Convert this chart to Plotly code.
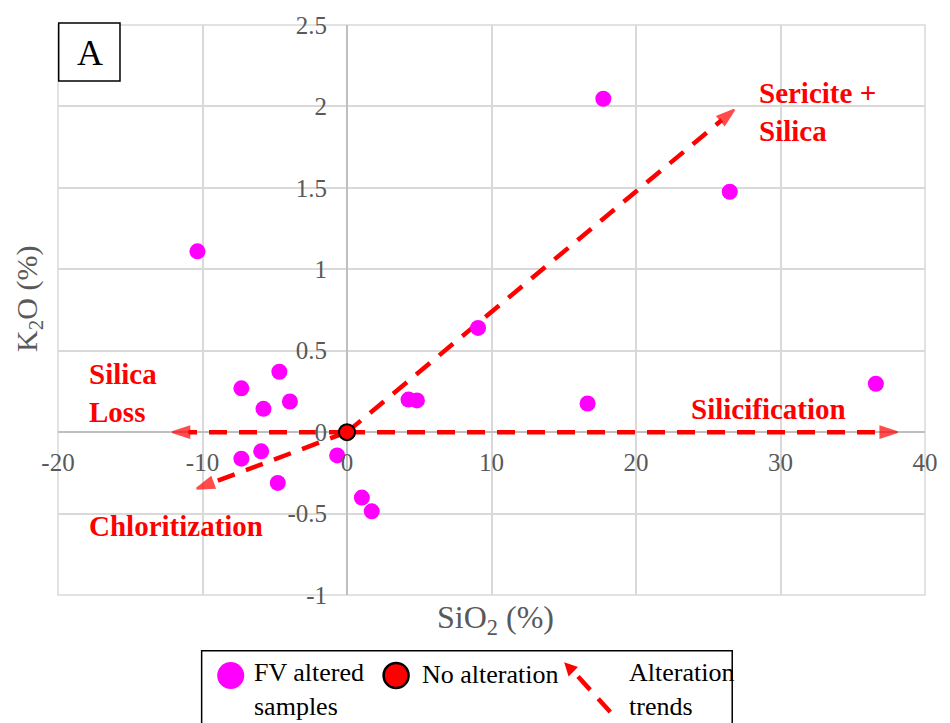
import plotly.graph_objects as go

# ---------------- data ----------------
fv_sio2 = [17.74, 26.49, -10.35, 9.07, 36.6, 16.65, 4.26, 4.84,
           -7.31, -4.68, -5.78, -3.95, -7.31, -5.94, -4.79, -0.68, 1.03, 1.71]
fv_k2o = [2.047, 1.476, 1.11, 0.64, 0.297, 0.176, 0.20, 0.195,
          0.269, 0.371, 0.143, 0.188, -0.163, -0.118, -0.312, -0.143, -0.402, -0.486]

noalt_sio2 = [0]
noalt_k2o = [0]

trend_names = ["Sericite + Silica", "Silicification", "Silica Loss", "Chloritization"]
trend_start_x = [0, 0, 0, 0]
trend_start_y = [0, 0, 0, 0]
trend_end_x = [26.8, 38.1, -12.1, -10.4]
trend_end_y = [1.98, 0.0, 0.0, -0.347]

x_tickvals = [-20, -10, 0, 10, 20, 30, 40]
x_ticktext = ["-20", "-10", "0", "10", "20", "30", "40"]
y_tickvals = [-1, -0.5, 0, 0.5, 1, 1.5, 2, 2.5]
y_ticktext = ["-1", "-0.5", "0", "0.5", "1", "1.5", "2", "2.5"]

# ---------------- layout helpers ----------------
W, H = 950, 723
L, T, R, B = 58, 22, 935, 595
PW, PH = R - L, B - T


def px(x):
    return (x - L) / PW


def py(y):
    return (B - y) / PH


SERIF = "Liberation Serif"
GRAY = "#595959"
RED = "#FF0000"
MAGENTA = "#FF00FF"

fig = go.Figure()

# alteration trend arrows
for i, name in enumerate(trend_names):
    fig.add_trace(go.Scatter(
        x=[trend_start_x[i], trend_end_x[i]],
        y=[trend_start_y[i], trend_end_y[i]],
        mode="lines+markers",
        line=dict(color=RED, width=4.5, dash="18px,12px"),
        marker=dict(symbol="arrow", size=[0, 18], color=RED,
                    angleref="previous", line=dict(width=2, color=RED)),
        name=name, hoverinfo="skip", showlegend=False,
    ))

fig.add_trace(go.Scatter(
    x=fv_sio2, y=fv_k2o, mode="markers",
    marker=dict(size=16, color=MAGENTA, line=dict(width=0)),
    name="FV altered samples", showlegend=False,
))

fig.add_trace(go.Scatter(
    x=noalt_sio2, y=noalt_k2o, mode="markers",
    marker=dict(size=16, color=RED, line=dict(width=2, color="#000000")),
    name="No alteration", showlegend=False,
))

fig.update_xaxes(
    range=[-20, 40], tickvals=x_tickvals, ticktext=x_ticktext,
    showgrid=True, gridcolor="#D9D9D9", gridwidth=1.5,
    zeroline=True, zerolinecolor="#BFBFBF", zerolinewidth=1.5,
    anchor="free", position=py(431.3), ticks="", ticklabelstandoff=13,
    tickfont=dict(family=SERIF, size=25, color=GRAY),
    showline=False, fixedrange=True,
)
fig.update_yaxes(
    range=[-1, 2.5], tickvals=y_tickvals, ticktext=y_ticktext,
    showgrid=True, gridcolor="#D9D9D9", gridwidth=1.5,
    zeroline=True, zerolinecolor="#BFBFBF", zerolinewidth=1.5,
    anchor="free", position=px(350.3), ticks="", ticklabelstandoff=20,
    tickfont=dict(family=SERIF, size=25, color=GRAY),
    showline=False, fixedrange=True,
)

shapes = [
    # plot border
    dict(type="rect", xref="paper", yref="paper", x0=0, x1=1, y0=0, y1=1,
         line=dict(color="#D9D9D9", width=1.5), layer="below"),
    # panel label box
    dict(type="rect", xref="paper", yref="paper",
         x0=px(58.7), x1=px(120.7), y0=py(78.3), y1=py(20),
         line=dict(color="#000000", width=1.5), fillcolor="white"),
    # legend box
    dict(type="rect", xref="paper", yref="paper",
         x0=px(203.3), x1=px(740), y0=py(740), y1=py(651),
         line=dict(color="#000000", width=1.5), fillcolor="white"),
    # legend symbols
    dict(type="circle", xref="paper", yref="paper", xsizemode="pixel", ysizemode="pixel",
         xanchor=px(232.7), yanchor=py(676), x0=-13.5, x1=13.5, y0=-13.5, y1=13.5,
         fillcolor=MAGENTA, line=dict(width=0)),
    dict(type="circle", xref="paper", yref="paper", xsizemode="pixel", ysizemode="pixel",
         xanchor=px(400), yanchor=py(676), x0=-12.5, x1=12.5, y0=-12.5, y1=12.5,
         fillcolor=RED, line=dict(width=2.5, color="#000000")),
    dict(type="line", xref="paper", yref="paper",
         x0=px(616.7), y0=py(712.7), x1=px(579), y1=py(671.5),
         line=dict(color=RED, width=4.5, dash="18px,12px")),
    dict(type="path", xref="paper", yref="paper",
         path="M{},{} L{},{} L{},{} Z".format(px(570), py(662.5), px(584), py(667.5),
                                              px(574.5), py(677)),
         fillcolor=RED, line=dict(width=0)),
]

bold_red = dict(family=SERIF, size=29, color=RED)
annotations = [
    dict(text="<b>Silica<br>Loss</b>", x=-18.0, y=0.242, xref="x", yref="y",
         xanchor="left", yanchor="middle", align="left", showarrow=False, font=bold_red),
    dict(text="<b>Chloritization</b>", x=-18.0, y=-0.578, xref="x", yref="y",
         xanchor="left", yanchor="middle", align="left", showarrow=False, font=bold_red),
    dict(text="<b>Silicification</b>", x=23.65, y=0.143, xref="x", yref="y",
         xanchor="left", yanchor="middle", align="left", showarrow=False, font=bold_red),
    dict(text="<b>Sericite +<br>Silica</b>", x=28.4, y=1.963, xref="x", yref="y",
         xanchor="left", yanchor="middle", align="left", showarrow=False, font=bold_red),
    dict(text="A", x=px(90), y=py(50), xref="paper", yref="paper",
         xanchor="center", yanchor="middle", showarrow=False,
         font=dict(family=SERIF, size=36, color="#000000")),
    dict(text="SiO<sub>2</sub> (%)", x=px(500.5), y=py(620), xref="paper", yref="paper",
         xanchor="center", yanchor="middle", showarrow=False,
         font=dict(family=SERIF, size=32, color=GRAY)),
    dict(text="K<sub>2</sub>O (%)", x=px(28), y=py(297), xref="paper", yref="paper",
         xanchor="center", yanchor="middle", showarrow=False, textangle=-90,
         font=dict(family=SERIF, size=30, color=GRAY)),
    dict(text="FV altered<br>samples", x=px(254), y=py(690), xref="paper", yref="paper",
         xanchor="left", yanchor="middle", align="left", showarrow=False,
         font=dict(family=SERIF, size=26, color="#000000")),
    dict(text="No alteration", x=px(424), y=py(675), xref="paper", yref="paper",
         xanchor="left", yanchor="middle", align="left", showarrow=False,
         font=dict(family=SERIF, size=26, color="#000000")),
    dict(text="Alteration<br>trends", x=px(634), y=py(690), xref="paper", yref="paper",
         xanchor="left", yanchor="middle", align="left", showarrow=False,
         font=dict(family=SERIF, size=26, color="#000000")),
]

fig.update_layout(
    width=W, height=H,
    margin=dict(l=L, r=W - R, t=T, b=H - B),
    plot_bgcolor="white", paper_bgcolor="white",
    showlegend=False,
    shapes=shapes, annotations=annotations,
)

fig.write_html("out.html", config={"displayModeBar": False})
